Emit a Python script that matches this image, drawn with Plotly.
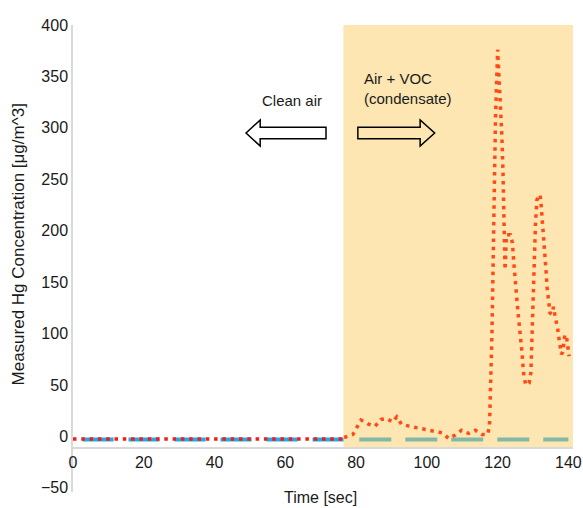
import plotly.graph_objects as go

# ---------------- data ----------------
clean_time = [0, 10, 20, 30, 40, 50, 60, 70, 76.5]
clean_hg = [-2.5, -2.5, -2.5, -2.5, -2.5, -2.5, -2.5, -2.5, -2.5]

clean_ref_time = [2.7, 76.5]
clean_ref_hg = [-3, -3]

voc_ref_time = [80.9, 140.0]
voc_ref_hg = [-3, -3]

voc_time = [76.6, 79.1, 81.4, 83.5, 85.4, 87.0, 88.7, 90.3, 91.5, 92.8,
            95.0, 97.4, 99.8, 102.1, 104.3, 106.2, 108.0, 109.8, 111.8, 113.7,
            115.6, 117.2, 117.7, 118.4, 118.9, 119.4, 120.0, 120.3, 120.8, 121.2,
            121.5, 121.7, 121.9, 122.1, 122.3, 122.5, 123.6, 124.2, 124.5, 124.8,
            125.3, 125.7, 126.2, 126.6, 126.9, 127.2, 127.5, 128.0, 128.9, 129.4,
            129.7, 130.0, 130.4, 130.7, 131.1, 132.0, 132.3, 132.7, 133.0, 133.3,
            133.7, 134.0, 134.4, 134.8, 135.3, 135.8, 136.2, 136.6, 137.0, 137.3,
            137.7, 138.0, 138.4, 139.0, 139.5, 139.9, 140.2]
voc_hg = [-1, 2, 16, 12, 10, 16.5, 17.5, 14, 19, 12,
          10, 8.4, 6, 4.5, 3.5, -2, 1.3, 6, 3, 6,
          2, 2, 10, 100, 225, 310, 376, 356, 324, 292,
          259, 215, 180, 162, 180, 196, 196, 188, 172, 155,
          139, 123, 107, 91, 81, 67, 57, 50, 52, 62,
          100, 139, 172, 207, 230, 235, 225, 209, 193, 177,
          160, 144, 127, 120, 119, 126, 118, 112, 104, 96,
          88, 80, 82, 99, 96, 88, 78]

x_ticks = [0, 20, 40, 60, 80, 100, 120, 140]
y_ticks = [-50, 0, 50, 100, 150, 200, 250, 300, 350, 400]

X_RANGE = [0, 141.3]
Y_RANGE = [-54, 400]
X_AXIS_AT = -11
VOC_START = 76.4

FONT = "Liberation Sans, Arial, Helvetica, sans-serif"

fig = go.Figure()

fig.add_trace(go.Scatter(x=clean_ref_time, y=clean_ref_hg, mode="lines",
                         line=dict(color="#27A9E6", width=4, dash="31px,15px"),
                         hoverinfo="skip"))
fig.add_trace(go.Scatter(x=clean_time, y=clean_hg, mode="lines",
                         line=dict(color="#F21D16", width=3.5, dash="3.5px,4.8px"),
                         hoverinfo="skip"))
fig.add_trace(go.Scatter(x=voc_ref_time, y=voc_ref_hg, mode="lines",
                         line=dict(color="#84B8A6", width=4, dash="32px,14px"),
                         hoverinfo="skip"))
fig.add_trace(go.Scatter(x=voc_time, y=voc_hg, mode="lines",
                         line=dict(color="#FF4A17", width=3.5, dash="3.5px,4.8px"),
                         hoverinfo="skip"))

# shaded VOC region
fig.add_shape(type="rect", xref="x", yref="y", x0=VOC_START, x1=X_RANGE[1],
              y0=X_AXIS_AT, y1=400, fillcolor="#FDE6B2", line=dict(width=0),
              layer="below")


def arrow_path(x_tail, x_head_base, x_tip, yc, body_half, head_half):
    return (f"M {x_tail},{yc + body_half} L {x_head_base},{yc + body_half} "
            f"L {x_head_base},{yc + head_half} L {x_tip},{yc} "
            f"L {x_head_base},{yc - head_half} L {x_head_base},{yc - body_half} "
            f"L {x_tail},{yc - body_half} Z")


fig.add_shape(type="path", xref="x", yref="y",
              path=arrow_path(71.5, 52.9, 48.9, 295, 5.5, 12.7),
              fillcolor="white", line=dict(color="black", width=1.5))
fig.add_shape(type="path", xref="x", yref="y",
              path=arrow_path(80.5, 98.1, 102.2, 295, 5.5, 12.7),
              fillcolor="rgba(0,0,0,0)", line=dict(color="black", width=1.5))

fig.add_annotation(x=61.85, y=327, xref="x", yref="y", text="Clean air",
                   showarrow=False, font=dict(size=15, family=FONT, color="#1a1a1a"),
                   xanchor="center", yanchor="middle")
fig.add_annotation(x=81.8, y=338, xref="x", yref="y", text="Air + VOC<br>(condensate)",
                   showarrow=False, font=dict(size=15, family=FONT, color="#1a1a1a"),
                   xanchor="left", yanchor="middle", align="left")

fig.add_annotation(x=0.494, y=-0.011, xref="paper", yref="paper", text="Time [sec]",
                   showarrow=False, font=dict(size=16, family=FONT, color="#1a1a1a"),
                   xanchor="center", yanchor="middle")
fig.add_annotation(x=-0.11, y=0.53, xref="paper", yref="paper",
                   text="Measured Hg Concentration [μg/m^3]", textangle=-90,
                   showarrow=False, font=dict(size=17, family=FONT, color="#1a1a1a"),
                   xanchor="center", yanchor="middle")

x_pos = (X_AXIS_AT - Y_RANGE[0]) / (Y_RANGE[1] - Y_RANGE[0])

fig.update_layout(
    width=583, height=508,
    margin=dict(l=73, r=10, t=25, b=16, autoexpand=False),
    template="none",
    plot_bgcolor="white", paper_bgcolor="white",
    showlegend=False,
    font=dict(family=FONT, size=16, color="#1a1a1a"),
)
fig.update_xaxes(range=X_RANGE, tickmode="array", tickvals=x_ticks,
                 showgrid=False, zeroline=False, showline=True,
                 linecolor="#d9d9d9", linewidth=1.5, ticks="",
                 anchor="free", position=x_pos, automargin=False,
                 ticklabeloverflow="allow",
                 tickfont=dict(size=16, family=FONT, color="#1a1a1a"))
fig.update_yaxes(range=Y_RANGE, tickmode="array", tickvals=y_ticks,
                 showgrid=False, zeroline=False, showline=True,
                 linecolor="#d9d9d9", linewidth=1.5, ticks="", automargin=False,
                 tickfont=dict(size=16, family=FONT, color="#1a1a1a"))

fig.write_html("out.html",
               config={"displayModeBar": False},
               post_script="document.body.style.margin='0';"
                           "document.documentElement.style.overflow='hidden';")
